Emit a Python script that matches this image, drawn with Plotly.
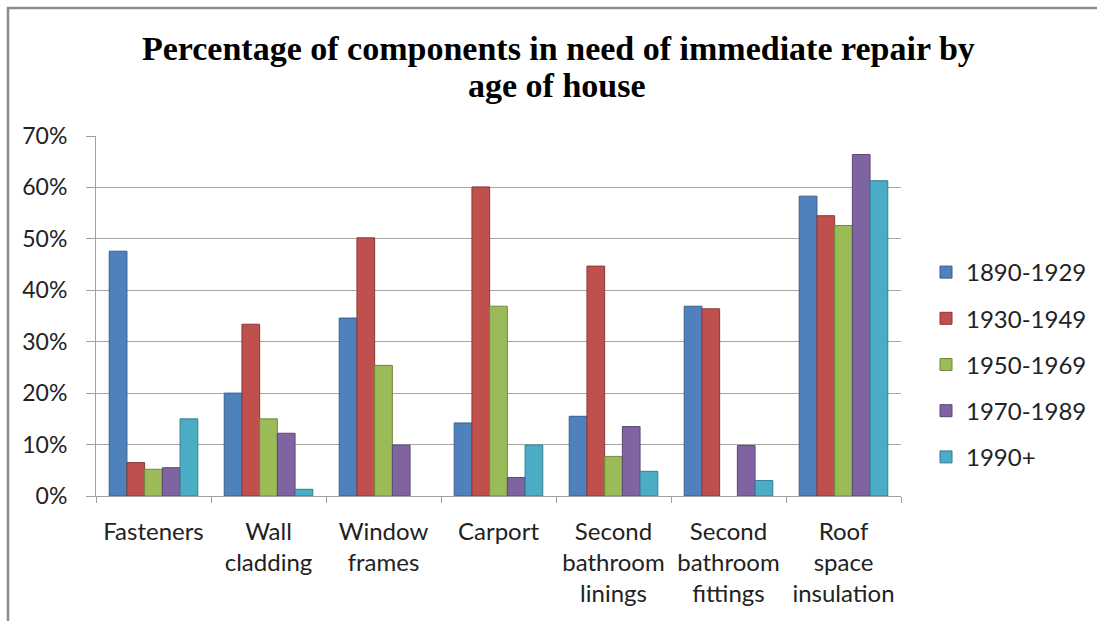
import plotly.graph_objects as go

# Share of house components needing immediate repair, by build period
categories = [
    "Fasteners",
    "Wall<br>cladding",
    "Window<br>frames",
    "Carport",
    "Second<br>bathroom<br>linings",
    "Second<br>bathroom<br>fittings",
    "Roof<br>space<br>insulation",
]

# None marks a component with no bar for that period
period_1890_1929 = [0.476, 0.200, 0.346, 0.142, 0.155, 0.369, 0.583]
period_1930_1949 = [0.065, 0.334, 0.502, 0.601, 0.447, 0.364, 0.545]
period_1950_1969 = [0.052, 0.150, 0.254, 0.369, 0.077, None, 0.526]
period_1970_1989 = [0.055, 0.122, 0.099, 0.036, 0.135, 0.098, 0.664]
period_1990_plus = [0.150, 0.013, None, 0.099, 0.048, 0.030, 0.613]

series = [
    ("1890-1929", period_1890_1929, "#4F81BD", "#385D8A"),
    ("1930-1949", period_1930_1949, "#C0504D", "#8C3836"),
    ("1950-1969", period_1950_1969, "#9BBB59", "#71893F"),
    ("1970-1989", period_1970_1989, "#8064A2", "#5C4776"),
    ("1990+", period_1990_plus, "#4BACC6", "#357D91"),
]

fig = go.Figure()
for name, values, fill, edge in series:
    fig.add_trace(go.Bar(
        name=name,
        legendgroup=name,
        x=categories,
        y=values,
        marker=dict(color=fill, line=dict(color=edge, width=1)),
    ))

W, H = 1097, 621
text_color = "#222222"
cat_font = dict(family="Lato, Open Sans, sans-serif", size=24, color=text_color)
tick_font = dict(family="Lato, Open Sans, sans-serif", size=23, color=text_color)
title_font = dict(family="Liberation Serif, serif", size=34, color="black", weight="bold")

fig.update_layout(
    width=W,
    height=H,
    margin=dict(l=96, r=196, t=136, b=125, autoexpand=False),
    paper_bgcolor="white",
    plot_bgcolor="white",
    barmode="group",
    bargap=0.23,
    bargroupgap=0,
    title=dict(
        text="Percentage of components in need of immediate repair by",
        font=title_font,
        x=0.509,
        xanchor="center",
        y=1 - 48 / H,
        yanchor="middle",
    ),
    legend=dict(
        xref="container",
        yref="container",
        x=926 / W,
        y=1 - 250 / H,
        xanchor="left",
        yanchor="top",
        font=cat_font,
        tracegroupgap=12,
        itemwidth=30,
        bgcolor="rgba(0,0,0,0)",
    ),
    xaxis=dict(
        showline=True,
        linecolor="#A0A0A0",
        linewidth=1,
        ticks="outside",
        tickson="boundaries",
        ticklen=6,
        tickcolor="#A0A0A0",
        tickfont=cat_font,
        ticklabelstandoff=14,
        showgrid=False,
        automargin=False,
    ),
    yaxis=dict(
        range=[0, 0.70],
        dtick=0.10,
        tickformat=".0%",
        showline=True,
        linecolor="#A0A0A0",
        linewidth=1,
        ticks="outside",
        ticklen=9,
        tickcolor="#A0A0A0",
        tickfont=tick_font,
        ticklabelstandoff=14,
        gridcolor="#A6A6A6",
        gridwidth=1,
        zeroline=False,
        automargin=False,
    ),
    showlegend=True,
)

# Second line of the heading
fig.add_annotation(
    text="age of house",
    font=title_font,
    xref="paper", yref="paper",
    x=(557 - 96) / 805, y=(496 - 85) / 360,
    xanchor="center", yanchor="middle",
    showarrow=False,
)

# Outer chart frame: top and left edges, running off the page to the right and bottom
frame_line = dict(color="#8C8C8C", width=2.5)
fig.add_shape(type="line", xref="paper", yref="paper",
              x0=(7 - 96) / 805, x1=(W - 96) / 805,
              y0=(496 - 8) / 360, y1=(496 - 8) / 360,
              line=frame_line)
fig.add_shape(type="line", xref="paper", yref="paper",
              x0=(8 - 96) / 805, x1=(8 - 96) / 805,
              y0=(496 - 7) / 360, y1=(496 - H) / 360,
              line=frame_line)

fig.write_html("out.html", config={"displayModeBar": False})
